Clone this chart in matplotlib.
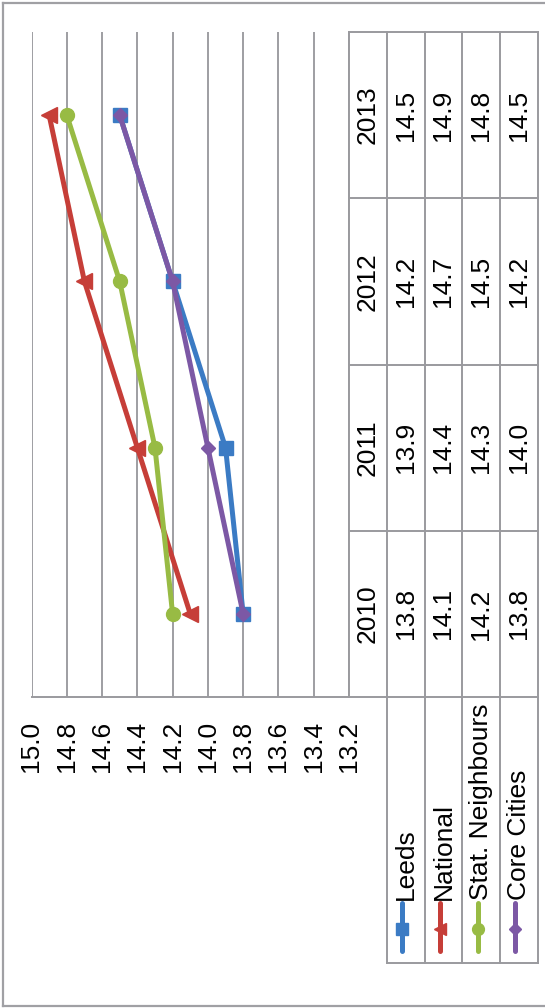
import numpy as np
import matplotlib.pyplot as plt
from matplotlib.lines import Line2D

plt.rcParams['font.family'] = ['Liberation Sans', 'DejaVu Sans']

# Average points score per year
years = ['2010', '2011', '2012', '2013']
series_names = ['Leeds', 'National', 'Stat. Neighbours', 'Core Cities']
leeds = [13.8, 13.9, 14.2, 14.5]
national = [14.1, 14.4, 14.7, 14.9]
stat_neighbours = [14.2, 14.3, 14.5, 14.8]
core_cities = [13.8, 14.0, 14.2, 14.5]
value_ticks = [13.2, 13.4, 13.6, 13.8, 14.0, 14.2, 14.4, 14.6, 14.8, 15.0]

series = [leeds, national, stat_neighbours, core_cities]
colors = ['#3b7bc4', '#c63e38', '#98bb44', '#7c58a5']
markers = ['s', '<', 'o', 'D']
msizes = [9.5, 11, 10, 7.5]

W, H = 545, 1008
grid_col = '#8e8e92'
line_col = '#9a9a9e'
fsize = 19

fig = plt.figure(figsize=(W / 100, H / 100), dpi=100)

# outer chart border (open on the right)
for xs, ys in [([3, 545], [3, 3]), ([3, 3], [3, 1006]), ([3, 545], [1006, 1006])]:
    fig.add_artist(Line2D([x / W for x in xs], [1 - y / H for y in ys],
                          transform=fig.transFigure, color='#a0a0a4', lw=1.6))

# plot area, drawn sideways: values run right-to-left, years bottom-to-top
ax = fig.add_axes([31.5 / W, (H - 697) / H, (349 - 31.5) / W, (697 - 32) / H])
ypos = np.arange(len(years))
for vals, c, m, ms, name in zip(series, colors, markers, msizes, series_names):
    ax.plot(vals, ypos, color=c, lw=3.6, marker=m, ms=ms, mec=c, mfc=c,
            label=name, solid_capstyle='round', clip_on=False)

ax.set_xlim(15.0, 13.2)
ax.set_ylim(-0.5, len(years) - 0.5)
ax.set_xticks(value_ticks)
ax.set_xticklabels([f'{v:.1f}' for v in value_ticks], rotation=90, fontsize=fsize)
ax.tick_params(axis='x', length=0, pad=17)
ax.set_yticks([])
ax.grid(axis='x', color=grid_col, lw=1.2)
ax.set_axisbelow(True)
for s in ['top', 'left', 'right']:
    ax.spines[s].set_visible(False)
ax.spines['bottom'].set_color(line_col)
ax.spines['bottom'].set_linewidth(1.4)

# data table with the legend keys underneath
tax = fig.add_axes([349 / W, (H - 963) / H, (538 - 349) / W, (963 - 32) / H])
tax.set_xlim(0, 5)
tax.set_ylim(-2.1, len(years) - 0.5)
tax.axis('off')

for yb in np.arange(-0.5, len(years), 1.0):
    tax.plot([0, 5], [yb, yb], color=line_col, lw=1.4, clip_on=False)
tax.plot([1, 5], [-2.1, -2.1], color=line_col, lw=1.4, clip_on=False)
tax.plot([0, 0], [-0.5, len(years) - 0.5], color=line_col, lw=1.4, clip_on=False)
for xb in range(1, 6):
    tax.plot([xb, xb], [-2.1, len(years) - 0.5], color=line_col, lw=1.4, clip_on=False)

for i, yr in enumerate(years):
    tax.text(0.5, i, yr, rotation=90, ha='center', va='center', fontsize=fsize)
    for j, vals in enumerate(series):
        tax.text(j + 1.5, i, f'{vals[i]:.1f}', rotation=90, ha='center',
                 va='center', fontsize=fsize)

# legend keys: short line with the series marker, name reading upwards
for j, (name, c, m, ms) in enumerate(zip(series_names, colors, markers, msizes)):
    xc = j + 1.5 - 0.1
    tax.plot([xc, xc], [-1.74, -2.03], color=c, lw=3.6, solid_capstyle='round',
             clip_on=False)
    tax.plot([xc], [-1.895], marker=m, ms=ms * 0.85, color=c, clip_on=False)
    tax.text(j + 1.5, -1.72, name, rotation=90, ha='center', va='bottom',
             fontsize=fsize)

fig.savefig('out.png', dpi=100)
